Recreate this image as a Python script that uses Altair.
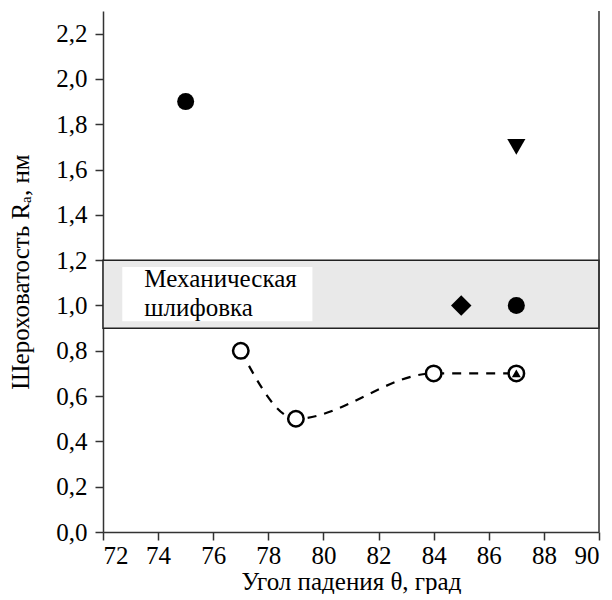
import altair as alt
import pandas as pd

# data
open_x = [77, 79, 84, 87]
open_y = [0.8, 0.5, 0.7, 0.7]
filled_circle_x = [75, 87]
filled_circle_y = [1.9, 1.0]
tri_down_x = [87]
tri_down_y = [1.7]
diamond_x = [85]
diamond_y = [1.0]
tri_up_x = [87]
tri_up_y = [0.7]
band_lo, band_hi = 0.9, 1.2
label_lines = ["Механическая", "шлифовка"]
label_y = [1.115, 0.99]
x_ticks = list(range(72, 91))
y_ticks = [round(i * 0.1, 1) for i in range(0, 23)]

FONT = "Liberation Serif"
xs = alt.Scale(domain=[72, 90], nice=False)
ys = alt.Scale(domain=[0, 2.3], nice=False)

common = dict(
    grid=False, labelFont=FONT, titleFont=FONT, labelFontSize=25, titleFontSize=25,
    titleFontWeight="normal", labelColor="black", titleColor="black",
    domainColor="#333", tickColor="#333", domainWidth=1.5, tickWidth=1.5,
)
x_axis = alt.Axis(
    values=x_ticks, title="Угол падения θ, град",
    labelExpr="datum.value % 2 == 0 ? datum.label : ''",
    tickSize={"condition": {"test": "datum.value % 2 == 0", "value": 8}, "value": 4},
    labelPadding=3, titlePadding=1, **common,
)
y_axis = alt.Axis(
    values=y_ticks, title="Шероховатость Rₐ, нм",
    labelExpr="round(datum.value*10) % 2 == 0 ? replace(format(datum.value, '.1f'), '.', ',') : ''",
    tickSize={"condition": {"test": "round(datum.value*10) % 2 == 0", "value": 8}, "value": 4},
    labelPadding=8, titlePadding=22, **common,
)

band_df = pd.DataFrame({"x": [72], "x2": [90], "y": [band_lo], "y2": [band_hi]})
band = alt.Chart(band_df).mark_rect(fill="#e9e9e9", stroke="#222", strokeWidth=1.5).encode(
    x=alt.X("x:Q", scale=xs, axis=x_axis), x2="x2:Q",
    y=alt.Y("y:Q", scale=ys, axis=y_axis), y2="y2:Q",
)
box_df = pd.DataFrame({"x": [72.7], "x2": [79.6], "y": [0.93], "y2": [1.17]})
box = alt.Chart(box_df).mark_rect(fill="white").encode(
    x=alt.X("x:Q", scale=xs), x2="x2:Q", y=alt.Y("y:Q", scale=ys), y2="y2:Q"
)
lab_df = pd.DataFrame({"x": [73.5, 73.5], "y": label_y, "t": label_lines})
labels = alt.Chart(lab_df).mark_text(align="left", font=FONT, fontSize=25, color="black").encode(
    x=alt.X("x:Q", scale=xs), y=alt.Y("y:Q", scale=ys), text="t:N"
)

right_df = pd.DataFrame({"x": [90], "y": [0], "y2": [2.3]})
right = alt.Chart(right_df).mark_rule(color="#333", strokeWidth=1.5).encode(
    x=alt.X("x:Q", scale=xs), y=alt.Y("y:Q", scale=ys), y2="y2:Q"
)

open_df = pd.DataFrame({"x": open_x, "y": open_y})
line = alt.Chart(open_df).mark_line(
    interpolate="monotone", strokeDash=[9, 8], strokeWidth=2.2, color="black"
).encode(x=alt.X("x:Q", scale=xs), y=alt.Y("y:Q", scale=ys))
opens = alt.Chart(open_df).mark_point(
    shape="circle", size=240, filled=True, fill="white", stroke="black", strokeWidth=2.5, opacity=1
).encode(x=alt.X("x:Q", scale=xs), y=alt.Y("y:Q", scale=ys))

def filled(xv, yv, shape, size):
    df = pd.DataFrame({"x": xv, "y": yv})
    return alt.Chart(df).mark_point(
        shape=shape, size=size, filled=True, color="black", opacity=1
    ).encode(x=alt.X("x:Q", scale=xs), y=alt.Y("y:Q", scale=ys))

fc = filled(filled_circle_x, filled_circle_y, "circle", 290)
td = filled(tri_down_x, tri_down_y, "triangle-down", 330)
dm = filled(diamond_x, diamond_y, "diamond", 420)
tu = filled(tri_up_x, tri_up_y, "triangle-up", 80)

chart = alt.layer(band, box, labels, right, line, opens, fc, td, dm, tu).properties(
    width=496, height=521, padding={"top": 2, "left": 0, "right": 2, "bottom": 0}
).configure_view(stroke=None)

chart.save("out.html", embed_options={"renderer": "svg", "actions": False})
